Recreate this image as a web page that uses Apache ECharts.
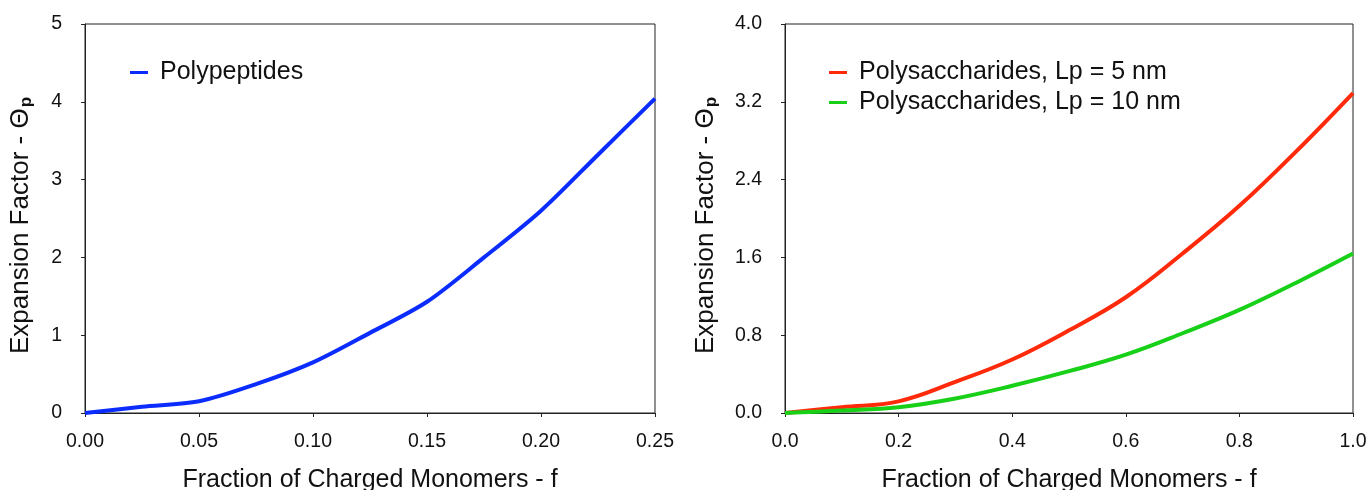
<!DOCTYPE html>
<html><head><meta charset="utf-8">
<script src="https://cdn.jsdelivr.net/npm/echarts@6/dist/echarts.min.js"></script>
<style>html,body{margin:0;padding:0;background:#fff}#c{width:1370px;height:490px}</style>
</head><body><div id="c"></div>
<script>
// Left panel: polypeptides
const fLeft = [0, 0.025, 0.05, 0.075, 0.10, 0.125, 0.15, 0.175, 0.20, 0.225, 0.25];
const polypeptides = [0, 0.08, 0.15, 0.37, 0.65, 1.03, 1.43, 2.0, 2.6, 3.32, 4.04];
// Right panel: polysaccharides
const fRight = [0, 0.1, 0.2, 0.3, 0.4, 0.5, 0.6, 0.7, 0.8, 0.9, 1.0];
const lp5 = [0, 0.06, 0.12, 0.32, 0.55, 0.85, 1.19, 1.64, 2.13, 2.69, 3.29];
const lp10 = [0, 0.025, 0.06, 0.15, 0.28, 0.43, 0.6, 0.82, 1.06, 1.34, 1.64];
const xTicksLeft = ['0.00','0.05','0.10','0.15','0.20','0.25'];
const xTicksRight = ['0.0','0.2','0.4','0.6','0.8','1.0'];
const yTicksRight = ['0.0','0.8','1.6','2.4','3.2','4.0'];

const FONT = 'Liberation Sans, Arial, Helvetica, sans-serif';
const axisCol = '#222';
const pairs = (xs, ys) => xs.map((x, i) => [x, ys[i]]);
const yNameText = 'Expansion Factor - Θ{s|p}';
function xAxis(idx, max, interval, labels) {
  return {
    type: 'value', gridIndex: idx, min: 0, max: max, interval: interval,
    name: 'Fraction of Charged Monomers - f', nameLocation: 'middle', nameGap: 55,
    nameTextStyle: {fontFamily: FONT, fontSize: 25, color: '#111'},
    axisLine: {lineStyle: {color: axisCol, width: 1}},
    axisTick: {show: true, length: 4, lineStyle: {color: axisCol}},
    axisLabel: {fontFamily: FONT, fontSize: 19.5, color: '#111', margin: 19,
      formatter: v => labels[Math.round(v / interval)]},
    splitLine: {show: false}
  };
}
function yAxis(idx, max, interval, fmt, gap) {
  return {
    type: 'value', gridIndex: idx, min: 0, max: max, interval: interval,
    name: yNameText, nameLocation: 'middle', nameGap: gap, nameRotate: 90,
    nameTextStyle: {fontFamily: FONT, fontSize: 26, color: '#111', padding: [0, 14, 0, 0],
      rich: {s: {fontFamily: FONT, fontSize: 17, fontWeight: 'bold', color: '#111', verticalAlign: 'bottom', padding: [12, 0, 0, 1]}}},
    axisLine: {show: true, lineStyle: {color: axisCol, width: 1}},
    axisTick: {show: true, length: 4, lineStyle: {color: axisCol}},
    axisLabel: {fontFamily: FONT, fontSize: 19.5, color: '#111', margin: 23, formatter: fmt},
    splitLine: {show: false}
  };
}
const chart = echarts.init(document.getElementById('c'), null, {renderer: 'canvas'});
chart.setOption({
  backgroundColor: '#fff',
  animation: false,
  grid: [
    {left: 85, top: 24, width: 570, height: 389, show: true, borderColor: axisCol, borderWidth: 1, outerBoundsMode: 'none', containLabel: false},
    {left: 785, top: 24, width: 568, height: 389, show: true, borderColor: axisCol, borderWidth: 1, outerBoundsMode: 'none', containLabel: false}
  ],
  legend: [
    {data: ['Polypeptides'], left: 125, top: 55, orient: 'vertical', icon: 'rect', itemWidth: 18, itemHeight: 3,
      textStyle: {fontFamily: FONT, fontSize: 25, color: '#111', padding: [0, 0, 0, 7]}},
    {data: ['Polysaccharides, Lp = 5 nm', 'Polysaccharides, Lp = 10 nm'], left: 824, top: 55, orient: 'vertical',
      icon: 'rect', itemWidth: 18, itemHeight: 3, itemGap: 5,
      textStyle: {fontFamily: FONT, fontSize: 25, color: '#111', padding: [0, 0, 0, 7]}}
  ],
  xAxis: [xAxis(0, 0.25, 0.05, xTicksLeft), xAxis(1, 1.0, 0.2, xTicksRight)],
  yAxis: [
    yAxis(0, 5, 1, v => String(v), 50),
    yAxis(1, 4, 0.8, v => yTicksRight[Math.round(v / 0.8)], 65)
  ],
  series: [
    {name: 'Polypeptides', type: 'line', xAxisIndex: 0, yAxisIndex: 0, data: pairs(fLeft, polypeptides),
      smooth: 0.3, showSymbol: false, lineStyle: {color: '#0a2cff', width: 4}, itemStyle: {color: '#0a2cff'}},
    {name: 'Polysaccharides, Lp = 5 nm', type: 'line', xAxisIndex: 1, yAxisIndex: 1, data: pairs(fRight, lp5),
      smooth: 0.4, showSymbol: false, lineStyle: {color: '#ff2a0a', width: 4}, itemStyle: {color: '#ff2a0a'}},
    {name: 'Polysaccharides, Lp = 10 nm', type: 'line', xAxisIndex: 1, yAxisIndex: 1, data: pairs(fRight, lp10),
      smooth: 0.4, showSymbol: false, lineStyle: {color: '#18d018', width: 4}, itemStyle: {color: '#18d018'}}
  ]
});
</script></body></html>
